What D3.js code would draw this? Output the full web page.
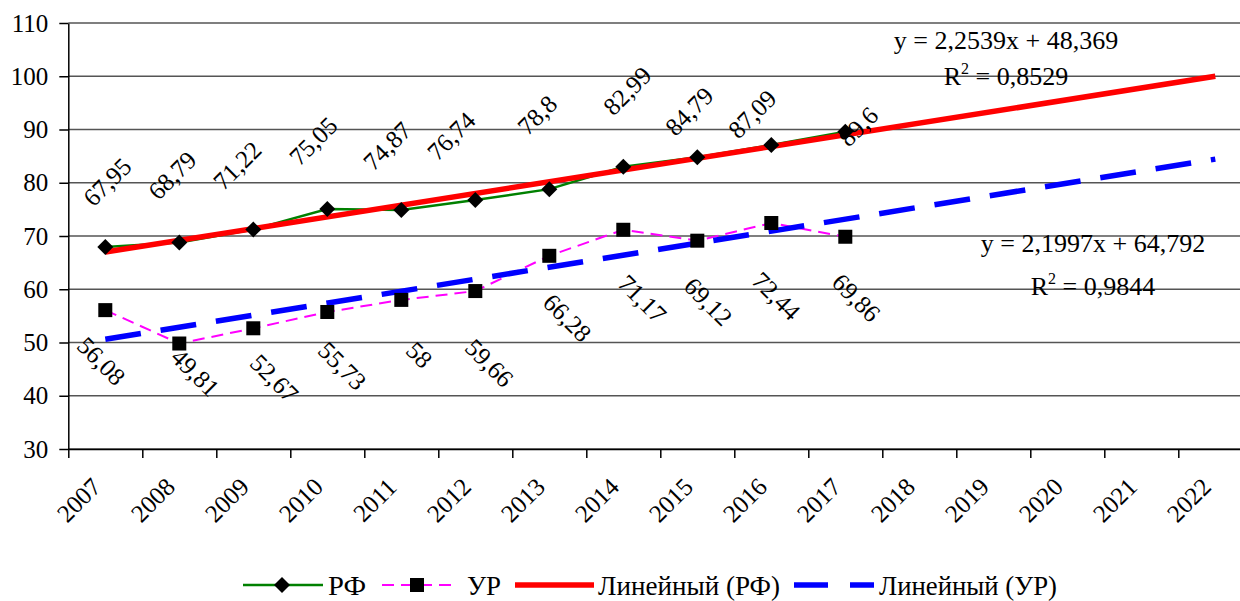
<!DOCTYPE html>
<html><head><meta charset="utf-8">
<script src="https://cdn.jsdelivr.net/npm/d3@7/dist/d3.min.js"></script>
</head><body style="margin:0">
<svg id="c" width="1240" height="601" font-family="Liberation Serif"></svg>
<script>
// ---- data ----
const years = [2007,2008,2009,2010,2011,2012,2013,2014,2015,2016,2017,2018,2019,2020,2021,2022];
const dataYears = [2007,2008,2009,2010,2011,2012,2013,2014,2015,2016,2017];
const rfValues = [67.95,68.79,71.22,75.05,74.87,76.74,78.8,82.99,84.79,87.09,89.6];
const urValues = [56.08,49.81,52.67,55.73,58,59.66,66.28,71.17,69.12,72.44,69.86];
const yTicks = [30,40,50,60,70,80,90,100,110];
const seriesNames = ["РФ","УР","Линейный (РФ)","Линейный (УР)"];
const eqTop = ["y = 2,2539x + 48,369","0,8529"];
const eqBottom = ["y = 2,1997x + 64,792","0,9844"];

// ---- layout (label nudges, not data) ----
const rfNudge = [[2,-65],[-7,-67],[-16,-64],[-14,-68],[-14,-64],[-24,-64],[-12,-74],[4,-76],[-8,-46],[-19,-31],[13,-5]];
const urNudge = [[-4,51],[16,29],[21,50],[15,54],[18,55],[14,72],[18,62],[19,69],[11,61],[5,73],[11,61]];

const svg = d3.select("#c");
svg.append("rect").attr("width", 1240).attr("height", 601).attr("fill", "#fff");
const pLeft = 68.3, pRight = 1252.3, pTop = 23, pBottom = 449;
const x = d3.scaleLinear().domain([0, years.length]).range([pLeft, pRight]);
const y = d3.scaleLinear().domain([30, 110]).range([pBottom, pTop]);
const cx = i => x(i + 0.5);
const fmt = v => String(v).replace(".", ",");

// gridlines
svg.append("g").selectAll("line").data(yTicks).join("line")
  .attr("x1", pLeft).attr("x2", pRight)
  .attr("y1", d => y(d)).attr("y2", d => y(d))
  .attr("stroke", "#555").attr("stroke-width", 1.3);

// axes
const yAxis = svg.append("g").attr("transform", `translate(${pLeft},0)`)
  .call(d3.axisLeft(y).tickValues(yTicks).tickSize(9).tickSizeOuter(0).tickPadding(11));
yAxis.attr("font-family", "Liberation Serif").attr("font-size", 25);
yAxis.selectAll("text").attr("fill", "#000");
yAxis.selectAll("line,path").attr("stroke", "#000").attr("stroke-width", 1.5);

const xAxis = svg.append("g").attr("transform", `translate(0,${pBottom})`)
  .call(d3.axisBottom(x).tickValues(d3.range(years.length + 1)).tickSize(9).tickSizeOuter(0).tickFormat(""));
xAxis.attr("font-family", "Liberation Serif");
xAxis.selectAll("line,path").attr("stroke", "#000").attr("stroke-width", 1.5);

const label = (sel, size) => sel.style("font-family", '"Liberation Serif"').style("font-size", size + "px");

label(svg.append("g").selectAll("text").data(years).join("text")
  .attr("transform", (d, i) => `translate(${cx(i) - 26.5},500) rotate(-45)`)
  .attr("text-anchor", "middle").attr("dominant-baseline", "central")
  .text(d => d), 25);

// regression
function linreg(vals) {
  const xs = vals.map((_, i) => i + 1);
  const mx = d3.mean(xs), my = d3.mean(vals);
  let sxy = 0, sxx = 0;
  vals.forEach((v, i) => { sxy += (xs[i] - mx) * (v - my); sxx += (xs[i] - mx) ** 2; });
  const b = sxy / sxx; return { b, a: my - b * mx };
}
const rfReg = linreg(rfValues), urReg = linreg(urValues);
const trendPts = r => [1, years.length].map(k => [x(k - 0.5), y(r.a + r.b * k)]);
const line = d3.line();

// series lines
svg.append("path").attr("d", line(urValues.map((v, i) => [cx(i), y(v)])))
  .attr("fill", "none").attr("stroke", "#ff00ff").attr("stroke-width", 2).attr("stroke-dasharray", "12,7");
svg.append("path").attr("d", line(rfValues.map((v, i) => [cx(i), y(v)])))
  .attr("fill", "none").attr("stroke", "#008000").attr("stroke-width", 2.5);

// trend lines
svg.append("path").attr("d", line(trendPts(urReg)))
  .attr("fill", "none").attr("stroke", "#0000ff").attr("stroke-width", 5.5).attr("stroke-dasharray", "36,20");
svg.append("path").attr("d", line(trendPts(rfReg)))
  .attr("fill", "none").attr("stroke", "#ff0000").attr("stroke-width", 5.5);

// markers
const diamond = (px, py, r) => `M${px},${py - r}L${px + r},${py}L${px},${py + r}L${px - r},${py}Z`;
svg.append("g").selectAll("path").data(rfValues).join("path")
  .attr("d", (v, i) => diamond(cx(i), y(v), 8)).attr("fill", "#000");
svg.append("g").selectAll("rect").data(urValues).join("rect")
  .attr("x", (v, i) => cx(i) - 7).attr("y", v => y(v) - 7).attr("width", 14).attr("height", 14).attr("fill", "#000");

// data labels
label(svg.append("g").selectAll("text").data(rfValues).join("text")
  .attr("transform", (v, i) => `translate(${cx(i) + rfNudge[i][0]},${y(v) + rfNudge[i][1]}) rotate(-45)`)
  .attr("text-anchor", "middle").attr("dominant-baseline", "central")
  .text(fmt), 25);
label(svg.append("g").selectAll("text").data(urValues).join("text")
  .attr("transform", (v, i) => `translate(${cx(i) + urNudge[i][0]},${y(v) + urNudge[i][1]}) rotate(45)`)
  .attr("text-anchor", "middle").attr("dominant-baseline", "central")
  .text(fmt), 25);

// equations
function equation(eq, xc, y1, y2) {
  label(svg.append("text").attr("x", xc).attr("y", y1).attr("text-anchor", "middle").text(eq[0]), 26);
  const t = label(svg.append("text").attr("x", xc).attr("y", y2).attr("text-anchor", "middle"), 26);
  t.append("tspan").text("R");
  t.append("tspan").attr("dy", -11).style("font-size", "16px").text("2");
  t.append("tspan").attr("dy", 11).text(" = " + eq[1]);
}
equation(eqTop, 1006, 49, 85);
equation(eqBottom, 1093, 252, 295);

// legend
const ly = 585;
const lg = svg.append("g");
lg.append("line").attr("x1", 243).attr("x2", 323).attr("y1", ly).attr("y2", ly).attr("stroke", "#008000").attr("stroke-width", 2.5);
lg.append("path").attr("d", diamond(282, ly, 8)).attr("fill", "#000");
lg.append("line").attr("x1", 382).attr("x2", 451).attr("y1", ly).attr("y2", ly).attr("stroke", "#ff00ff").attr("stroke-width", 2).attr("stroke-dasharray", "12,7");
lg.append("rect").attr("x", 410).attr("y", ly - 7).attr("width", 14).attr("height", 14).attr("fill", "#000");
lg.append("line").attr("x1", 515).attr("x2", 594).attr("y1", ly).attr("y2", ly).attr("stroke", "#ff0000").attr("stroke-width", 5.5);
lg.append("line").attr("x1", 794).attr("x2", 874).attr("y1", ly).attr("y2", ly).attr("stroke", "#0000ff").attr("stroke-width", 5.5).attr("stroke-dasharray", "34,22");
const legX = [[328, 38], [467, 34], [598, 182], [879, 178]];
label(lg.selectAll("text").data(seriesNames).join("text")
  .attr("x", (d, i) => legX[i][0]).attr("y", ly + 10)
  .attr("textLength", (d, i) => legX[i][1]).attr("lengthAdjust", "spacingAndGlyphs")
  .text(d => d), 28);
</script>
</body></html>
